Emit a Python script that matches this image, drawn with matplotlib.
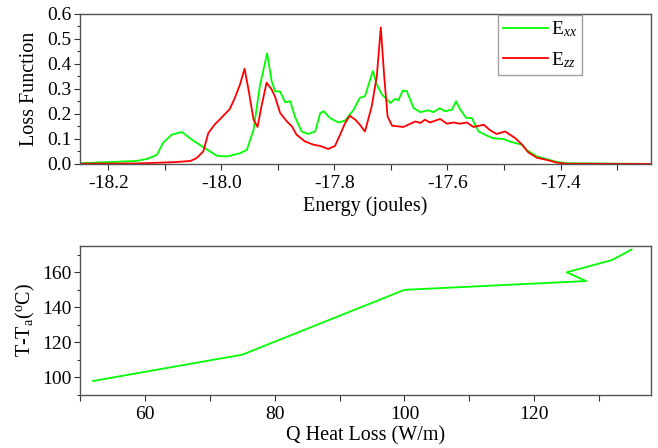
import matplotlib
matplotlib.use("Agg")
import matplotlib.pyplot as plt
from matplotlib.ticker import MultipleLocator

plt.rcParams['font.family'] = ['Liberation Serif', 'DejaVu Serif']
plt.rcParams['mathtext.fontset'] = 'custom'
plt.rcParams['mathtext.rm'] = 'Liberation Serif'
plt.rcParams['mathtext.it'] = 'Liberation Serif:italic'
plt.rcParams['axes.unicode_minus'] = False

# Loss function spectra
energy_xx = [-18.25, -18.15, -18.132, -18.114, -18.103, -18.088, -18.070, -18.052,
             -18.029, -18.008, -17.990, -17.967, -17.955, -17.943, -17.932, -17.919,
             -17.911, -17.905, -17.896, -17.887, -17.878, -17.870, -17.858, -17.846,
             -17.834, -17.825, -17.819, -17.808, -17.793, -17.781, -17.766, -17.755,
             -17.746, -17.732, -17.725, -17.716, -17.701, -17.693, -17.687, -17.679,
             -17.672, -17.660, -17.648, -17.634, -17.625, -17.614, -17.604, -17.592,
             -17.585, -17.578, -17.567, -17.557, -17.545, -17.530, -17.519, -17.501,
             -17.486, -17.468, -17.460, -17.442, -17.424, -17.406, -17.389, -17.24]
loss_xx = [0.003, 0.012, 0.020, 0.036, 0.085, 0.117, 0.128, 0.097,
           0.063, 0.033, 0.030, 0.043, 0.056, 0.137, 0.311, 0.443,
           0.331, 0.291, 0.289, 0.247, 0.251, 0.190, 0.130, 0.120,
           0.130, 0.204, 0.211, 0.184, 0.166, 0.174, 0.217, 0.265,
           0.271, 0.372, 0.318, 0.278, 0.244, 0.260, 0.255, 0.294,
           0.291, 0.224, 0.207, 0.215, 0.207, 0.223, 0.211, 0.217,
           0.251, 0.220, 0.184, 0.184, 0.130, 0.113, 0.103, 0.100,
           0.087, 0.077, 0.056, 0.030, 0.019, 0.008, 0.003, 0.0]

energy_zz = [-18.25, -18.15, -18.085, -18.055, -18.044, -18.032, -18.023, -18.011,
             -18.002, -17.985, -17.976, -17.967, -17.959, -17.952, -17.943, -17.936,
             -17.929, -17.920, -17.911, -17.905, -17.896, -17.884, -17.875, -17.867,
             -17.852, -17.837, -17.825, -17.811, -17.799, -17.790, -17.781, -17.773,
             -17.763, -17.755, -17.746, -17.734, -17.725, -17.718, -17.712, -17.706,
             -17.698, -17.678, -17.657, -17.648, -17.640, -17.631, -17.613, -17.601,
             -17.589, -17.578, -17.566, -17.554, -17.536, -17.524, -17.513, -17.498,
             -17.480, -17.468, -17.457, -17.442, -17.424, -17.406, -17.389, -17.24]
loss_zz = [0.001, 0.002, 0.007, 0.012, 0.023, 0.050, 0.124, 0.160,
           0.180, 0.220, 0.265, 0.318, 0.381, 0.298, 0.177, 0.148,
           0.231, 0.325, 0.298, 0.269, 0.204, 0.170, 0.150, 0.117,
           0.090, 0.077, 0.072, 0.060, 0.072, 0.117, 0.164, 0.193,
           0.177, 0.157, 0.130, 0.231, 0.352, 0.546, 0.352, 0.190,
           0.153, 0.148, 0.170, 0.164, 0.177, 0.166, 0.180, 0.161,
           0.166, 0.161, 0.166, 0.148, 0.157, 0.134, 0.120, 0.130,
           0.103, 0.077, 0.046, 0.025, 0.016, 0.005, 0.001, 0.0]

# Heat loss vs temperature rise
heat_loss = [52, 75, 100, 128, 125, 132, 135]
temp_rise = [98, 113, 150, 155, 160, 167, 173]

GREEN = '#00ff00'
RED = '#ff0000'
SPINE = '#555555'
TICK_FS = 14
LABEL_FS = 14.5

fig = plt.figure(figsize=(6.58, 4.48), dpi=100)
ax1 = fig.add_axes([0.1216, 0.634, 0.8678, 0.3348])
ax2 = fig.add_axes([0.1216, 0.1183, 0.8678, 0.3326])


def style(ax):
    for s in ax.spines.values():
        s.set_color(SPINE)
        s.set_linewidth(1.0)
    ax.tick_params(which='both', direction='out', top=False, right=False,
                   labelsize=TICK_FS, color='#333333', width=0.8)
    ax.tick_params(which='major', length=4, pad=2)
    ax.tick_params(which='minor', length=2.5)
    ax.tick_params(axis='x', which='major', pad=4)
    ax.tick_params(axis='x', which='minor', length=4)


ax1.plot(energy_xx, loss_xx, color=GREEN, lw=1.3, label=r'E$_{xx}$')
ax1.plot(energy_zz, loss_zz, color=RED, lw=1.3, label=r'E$_{zz}$')
ax1.set_xlim(-18.25, -17.24)
ax1.set_ylim(0, 0.6)
ax1.xaxis.set_major_locator(MultipleLocator(0.2))
ax1.xaxis.set_minor_locator(MultipleLocator(0.1))
ax1.yaxis.set_major_locator(MultipleLocator(0.1))
ax1.yaxis.set_minor_locator(MultipleLocator(0.05))
ax1.yaxis.set_major_formatter(plt.FormatStrFormatter('%.1f'))
ax1.xaxis.set_major_formatter(plt.FormatStrFormatter('%.1f'))
style(ax1)
ax1.set_xlabel('Energy (joules)', fontsize=LABEL_FS, labelpad=3)
ax1.set_ylabel('Loss Function', fontsize=LABEL_FS, labelpad=6)
leg = ax1.legend(loc='upper left', bbox_to_anchor=(0.732, 0.995), fontsize=14,
                 frameon=True, fancybox=False, handlelength=2.3,
                 borderpad=0.25, labelspacing=0.55, handletextpad=0.2,
                 borderaxespad=0)
leg.get_frame().set_edgecolor('#888888')
leg.get_frame().set_linewidth(1.0)

ax2.plot(heat_loss, temp_rise, color=GREEN, lw=1.3)
ax2.set_xlim(50, 138)
ax2.set_ylim(90, 175)
ax2.xaxis.set_major_locator(MultipleLocator(20))
ax2.xaxis.set_minor_locator(MultipleLocator(10))
ax2.yaxis.set_major_locator(MultipleLocator(20))
ax2.yaxis.set_minor_locator(MultipleLocator(10))
style(ax2)
ax2.set_xlabel('Q Heat Loss (W/m)', fontsize=LABEL_FS, labelpad=2)
ax2.set_ylabel(r'T-T$_\mathregular{a}$($^\mathregular{o}$C)', fontsize=LABEL_FS,
               labelpad=4)

fig.savefig('out.png', dpi=100)
